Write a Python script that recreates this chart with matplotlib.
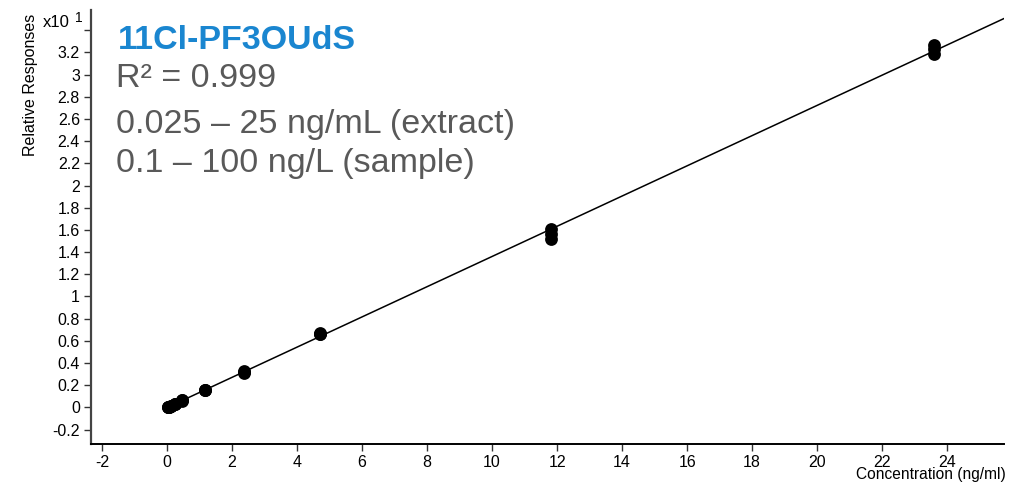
import numpy as np
import matplotlib.pyplot as plt

plt.rcParams['font.family'] = ['Liberation Sans', 'DejaVu Sans']
plt.rcParams['axes.unicode_minus'] = False

# calibration levels (ng/ml), three replicate injections each
levels = [0.0236, 0.0472, 0.118, 0.236, 0.472, 1.18, 2.36, 4.72, 11.8, 23.6]
rep1 = [0.003, 0.006, 0.015, 0.030, 0.062, 0.155, 0.310, 0.660, 1.52, 3.19]
rep2 = [0.003, 0.007, 0.017, 0.033, 0.068, 0.160, 0.320, 0.665, 1.56, 3.23]
rep3 = [0.004, 0.006, 0.016, 0.032, 0.065, 0.158, 0.325, 0.670, 1.61, 3.27]

yticks = [-0.2, 0, 0.2, 0.4, 0.6, 0.8, 1, 1.2, 1.4, 1.6, 1.8, 2, 2.2, 2.4, 2.6, 2.8, 3, 3.2, 3.4]
xticks = [-2, 0, 2, 4, 6, 8, 10, 12, 14, 16, 18, 20, 22, 24]

xlim = (-2.34, 25.75)
ylim = (-0.33, 3.58)

fig = plt.figure(figsize=(10.1, 4.83), dpi=100)
ax = fig.add_axes([0.0901, 0.0807, 0.904, 0.898])

x = np.tile(levels, 3)
y = np.concatenate([rep1, rep2, rep3])

# linear calibration fit
coef = np.polyfit(x, y, 1)
xf = np.linspace(0, xlim[1], 200)
ax.plot(xf, np.polyval(coef, xf), color='black', lw=1.1, zorder=2)

ax.scatter(x, y, s=85, color='black', zorder=3, linewidths=0)

ax.set_xlim(*xlim)
ax.set_ylim(*ylim)
ax.set_xticks(xticks)
ax.set_xticklabels([str(t) for t in xticks])
ax.set_yticks(yticks)
ax.set_yticklabels([('%g' % t) for t in yticks[:-1]] + [''])

for s in ['top', 'right']:
    ax.spines[s].set_visible(False)
ax.spines['left'].set_color('#444444')
ax.spines['left'].set_linewidth(1.6)
ax.spines['bottom'].set_color('black')
ax.spines['bottom'].set_linewidth(1.4)
ax.tick_params(axis='both', direction='out', length=5, width=1, labelsize=11.5, color='#333333', pad=3)

fig.text(0.030, 0.824, 'Relative Responses', rotation=90, ha='center', va='center', fontsize=11.5)
fig.text(0.042, 0.953, 'x10', ha='left', va='center', fontsize=12)
fig.text(0.074, 0.962, '1', ha='left', va='center', fontsize=10)
fig.text(0.996, 0.002, 'Concentration (ng/ml)', ha='right', va='bottom', fontsize=11.2)

ax.text(0.117, 0.917, '11Cl-PF3OUdS', transform=fig.transFigure, fontsize=24.5,
        fontweight='bold', color='#1a86d0', ha='left', va='center')
lines = ['R\u00b2 = 0.999', '0.025 \u2013 25 ng/mL (extract)', '0.1 \u2013 100 ng/L (sample)']
ypos = [0.8385, 0.743, 0.6625]
for t, yp in zip(lines, ypos):
    ax.text(0.115, yp, t, transform=fig.transFigure, fontsize=24.5,
            color='#595959', ha='left', va='center')

fig.savefig('out.png', dpi=100)
